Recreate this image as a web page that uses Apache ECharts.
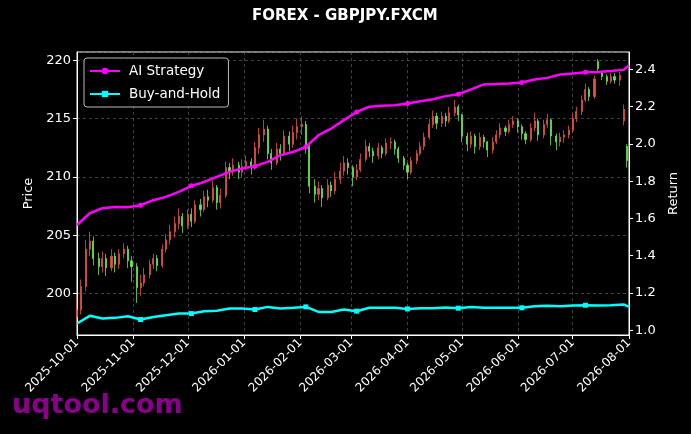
<!DOCTYPE html>
<html>
<head>
<meta charset="utf-8">
<script src="https://cdn.jsdelivr.net/npm/echarts@6/dist/echarts.min.js"></script>
<style>
html,body{margin:0;padding:0;background:#000;}
#chart{width:691px;height:434px;}
</style>
</head>
<body>
<div id="chart"></div>
<script>
// ---- Data ----
const titleText = 'FOREX - GBPJPY.FXCM';
const seriesNames = ['AI Strategy', 'Buy-and-Hold'];

// [date, open, close, low, high]
const ohlc = [
['2025-10-01',198.0,198.6,197.3,199.8],['2025-10-03',198.6,200.6,198.2,201.2],['2025-10-06',200.6,203.8,200.2,204.6],
['2025-10-08',203.8,204.5,203.2,205.3],['2025-10-10',204.5,203.0,202.4,204.9],['2025-10-13',203.0,202.3,201.6,203.5],
['2025-10-15',202.3,203.0,201.8,203.6],['2025-10-17',203.0,202.2,201.5,203.4],['2025-10-20',202.2,203.2,201.9,203.8],
['2025-10-22',203.2,202.5,201.8,203.5],['2025-10-24',202.5,203.4,202.1,203.8],['2025-10-27',203.4,203.8,203.0,204.3],
['2025-10-29',203.8,202.8,202.2,204.1],['2025-10-31',202.8,202.3,201.0,203.2],
['2025-11-03',202.3,200.5,199.2,202.6],['2025-11-05',200.5,200.9,199.8,201.6],['2025-11-07',200.9,201.6,200.6,202.2],
['2025-11-10',201.6,202.5,201.3,202.9],['2025-11-12',202.5,203.0,202.1,203.4],['2025-11-14',203.0,202.4,201.9,203.3],
['2025-11-17',202.4,203.8,202.2,204.2],['2025-11-19',203.8,204.6,203.5,205.1],['2025-11-21',204.6,205.3,204.2,205.9],
['2025-11-24',205.3,206.0,204.8,206.6],['2025-11-26',206.0,206.6,205.5,207.3],['2025-11-28',206.6,205.8,205.2,206.9],
['2025-12-01',205.8,206.8,205.5,207.2],['2025-12-03',206.8,206.2,205.7,207.3],['2025-12-05',206.2,207.6,206.0,208.0],
['2025-12-08',207.6,207.2,206.6,208.1],['2025-12-10',207.2,208.3,207.0,208.8],['2025-12-12',208.3,208.0,207.4,208.9],
['2025-12-15',208.0,209.1,207.8,209.7],['2025-12-17',209.1,207.8,207.2,209.3],['2025-12-19',207.8,208.4,207.3,209.0],
['2025-12-22',208.4,210.8,208.2,211.3],['2025-12-24',210.8,210.5,209.8,211.2],['2025-12-26',210.5,211.0,210.1,211.6],
['2025-12-29',211.0,210.4,209.8,211.3],['2025-12-31',210.4,210.9,210.0,211.5],
['2026-01-02',210.9,211.3,210.6,211.8],['2026-01-05',211.3,210.8,210.2,211.6],['2026-01-07',210.8,212.5,210.6,213.0],
['2026-01-09',212.5,213.6,212.0,214.2],['2026-01-12',213.6,214.1,213.0,214.9],['2026-01-14',214.1,212.0,211.5,214.4],
['2026-01-16',212.0,211.2,210.6,212.4],['2026-01-19',211.2,212.4,211.0,212.9],['2026-01-21',212.4,212.0,211.4,212.8],
['2026-01-23',212.0,213.5,211.8,214.0],['2026-01-26',213.5,212.8,212.2,213.9],['2026-01-28',212.8,213.8,212.5,214.4],
['2026-01-30',213.8,214.3,213.2,215.0],
['2026-02-02',214.3,214.5,213.6,215.2],['2026-02-04',214.5,212.6,212.0,214.8],['2026-02-06',212.6,209.2,208.6,212.8],
['2026-02-09',209.2,208.5,207.8,209.8],['2026-02-11',208.5,209.0,208.0,209.6],['2026-02-13',209.0,208.2,207.4,209.3],
['2026-02-16',208.2,209.3,208.0,209.8],['2026-02-18',209.3,208.8,208.3,209.6],['2026-02-20',208.8,209.8,208.5,210.4],
['2026-02-23',209.8,210.5,209.4,211.2],['2026-02-25',210.5,211.2,210.1,211.8],['2026-02-27',211.2,210.8,210.2,211.6],
['2026-03-02',210.8,210.0,209.2,211.0],['2026-03-04',210.0,210.6,209.7,211.1],['2026-03-06',210.6,211.5,210.4,212.0],
['2026-03-09',211.5,212.6,211.3,213.2],['2026-03-11',212.6,212.2,211.7,212.9],['2026-03-13',212.2,211.8,211.2,212.5],
['2026-03-16',211.8,212.5,211.5,212.9],['2026-03-18',212.5,212.0,211.6,212.7],['2026-03-20',212.0,212.9,211.8,213.3],
['2026-03-23',212.9,213.0,212.4,213.4],['2026-03-25',213.0,212.4,211.9,213.2],['2026-03-27',212.4,211.6,211.2,212.6],
['2026-03-30',211.6,211.0,210.6,211.8],
['2026-04-01',211.0,210.4,209.8,211.2],['2026-04-03',210.4,211.4,210.2,211.7],['2026-04-06',211.4,212.0,211.1,212.3],
['2026-04-08',212.0,212.6,211.8,213.0],['2026-04-10',212.6,213.4,212.3,213.8],['2026-04-13',213.4,214.5,213.2,215.0],
['2026-04-15',214.5,215.2,214.2,215.7],['2026-04-17',215.2,214.6,214.1,215.5],['2026-04-20',214.6,215.2,214.3,215.6],
['2026-04-22',215.2,214.8,214.3,215.5],['2026-04-24',214.8,215.5,214.6,216.0],['2026-04-27',215.5,216.0,215.2,216.6],
['2026-04-29',216.0,215.3,214.8,216.2],
['2026-05-01',215.3,213.5,213.0,215.4],['2026-05-04',213.5,212.8,212.2,213.8],['2026-05-06',212.8,213.5,212.5,213.9],
['2026-05-08',213.5,212.6,212.0,213.7],['2026-05-11',212.6,213.4,212.3,213.8],['2026-05-13',213.4,213.0,212.5,213.6],
['2026-05-15',213.0,212.3,211.7,213.1],['2026-05-18',212.3,213.0,212.0,213.4],['2026-05-20',213.0,213.6,212.8,214.0],
['2026-05-22',213.6,214.2,213.3,214.6],['2026-05-25',214.2,213.9,213.5,214.4],['2026-05-27',213.9,214.5,213.7,214.9],
['2026-05-29',214.5,214.8,214.2,215.2],
['2026-06-01',214.8,214.3,213.8,215.0],['2026-06-03',214.3,213.7,213.2,214.5],['2026-06-05',213.7,213.2,212.8,213.9],
['2026-06-08',213.2,214.2,213.0,214.6],['2026-06-10',214.2,214.8,213.9,215.5],['2026-06-12',214.8,213.6,213.1,215.0],
['2026-06-15',213.6,214.5,213.3,214.9],['2026-06-17',214.5,214.9,214.2,215.4],['2026-06-19',214.9,213.5,212.7,215.0],
['2026-06-22',213.5,213.0,212.3,213.7],['2026-06-24',213.0,213.4,212.6,213.8],['2026-06-26',213.4,213.6,212.9,214.0],
['2026-06-29',213.6,214.0,213.3,214.4],
['2026-07-01',214.0,215.0,213.8,215.4],['2026-07-03',215.0,215.6,214.7,216.0],['2026-07-06',215.6,216.6,215.3,217.0],
['2026-07-08',216.6,217.5,216.4,218.0],['2026-07-10',217.5,216.9,216.5,217.7],['2026-07-13',216.9,218.4,216.7,218.7],
['2026-07-15',219.9,219.3,219.1,220.1],['2026-07-17',218.9,218.6,218.3,219.1],['2026-07-20',218.6,218.2,217.9,218.8],
['2026-07-22',218.2,218.6,218.0,218.9],['2026-07-24',218.6,218.3,218.0,218.9],['2026-07-27',218.3,218.7,217.8,219.0],
['2026-07-29',214.8,215.8,214.4,216.2],['2026-07-31',212.6,211.4,210.8,212.8]
];

const lineDates = ['2025-10-01','2025-10-08','2025-10-15','2025-10-22','2025-10-29','2025-11-05','2025-11-12','2025-11-19','2025-11-26',
'2025-12-03','2025-12-10','2025-12-17','2025-12-24','2025-12-31','2026-01-07','2026-01-14','2026-01-21','2026-01-28',
'2026-02-04','2026-02-11','2026-02-18','2026-02-25','2026-03-04','2026-03-11','2026-03-18','2026-03-25','2026-04-01',
'2026-04-08','2026-04-15','2026-04-22','2026-04-29','2026-05-06','2026-05-13','2026-05-20','2026-05-27','2026-06-03',
'2026-06-10','2026-06-17','2026-06-24','2026-07-01','2026-07-08','2026-07-15','2026-07-22','2026-07-29','2026-08-01'];

const aiStrategy = [1.565,1.628,1.655,1.662,1.660,1.671,1.698,1.716,1.743,
1.775,1.796,1.823,1.850,1.868,1.881,1.904,1.940,1.957,
1.984,2.047,2.083,2.128,2.172,2.200,2.205,2.208,2.217,
2.230,2.240,2.257,2.267,2.293,2.320,2.322,2.325,2.330,
2.346,2.355,2.373,2.378,2.385,2.387,2.392,2.398,2.423];

const buyHold = [1.036,1.077,1.063,1.066,1.075,1.057,1.071,1.080,1.089,
1.089,1.102,1.104,1.116,1.116,1.111,1.125,1.116,1.120,
1.125,1.098,1.098,1.111,1.102,1.120,1.120,1.120,1.114,
1.118,1.118,1.122,1.118,1.125,1.120,1.120,1.120,1.120,
1.129,1.131,1.129,1.133,1.134,1.133,1.134,1.138,1.125];

const markerIdx = [5, 9, 14, 18, 22, 26, 30, 35, 40];

// ---- Chart ----
const FONT = 'DejaVu Sans';
function lineData(vals) {
  return lineDates.map((d, i) => ({
    value: [d, vals[i]],
    symbol: markerIdx.indexOf(i) >= 0 ? undefined : 'none'
  }));
}
const chart = echarts.init(document.getElementById('chart'), null, {renderer: 'canvas'});
const gridLine = {show: true, lineStyle: {color: '#5a5a5a', type: [3, 3], width: 0.7}};
const option = {
  backgroundColor: '#000',
  animation: false,
  textStyle: {fontFamily: FONT},
  title: {
    text: titleText, left: 252, top: 9, padding: 0,
    textStyle: {color: '#fff', fontSize: 15, fontWeight: 'bold', fontFamily: FONT}
  },
  legend: {
    data: seriesNames, orient: 'vertical', left: 84, top: 58,
    itemWidth: 30, itemHeight: 8, itemGap: 9,
    padding: [6, 8, 6, 5],
    borderColor: '#bbbbbb', borderWidth: 1, borderRadius: 3,
    backgroundColor: 'rgba(0,0,0,0.85)',
    textStyle: {color: '#fff', fontSize: 13.5, fontFamily: FONT, padding: [0, 0, 0, 4]}
  },
  grid: {left: 77, right: 62, top: 52, bottom: 99, show: true, borderColor: '#fff', borderWidth: 1, backgroundColor: 'transparent'},
  xAxis: {
    type: 'time', min: '2025-10-01', max: '2026-08-01', splitNumber: 10,
    axisLine: {lineStyle: {color: '#fff', width: 1}},
    axisTick: {show: true, length: 4, lineStyle: {color: '#fff'}},
    axisLabel: {color: '#fff', fontSize: 12, rotate: 45, margin: 6, formatter: '{yyyy}-{MM}-{dd}', hideOverlap: false, fontFamily: FONT},
    splitLine: gridLine
  },
  yAxis: [{
    type: 'value', min: 196.44, max: 220.71, position: 'left',
    name: 'Price', nameLocation: 'middle', nameGap: 42, nameRotate: 90,
    nameTextStyle: {color: '#fff', fontSize: 13, fontFamily: FONT},
    axisLine: {show: true, lineStyle: {color: '#fff'}},
    axisTick: {show: true, length: 4, lineStyle: {color: '#fff'}},
    axisLabel: {color: '#fff', fontSize: 13, margin: 6, showMinLabel: false, showMaxLabel: false, fontFamily: FONT},
    splitLine: gridLine
  }, {
    type: 'value', min: 0.974, max: 2.494, splitNumber: 7, position: 'right',
    name: 'Return', nameLocation: 'middle', nameGap: 38, nameRotate: 90,
    nameTextStyle: {color: '#fff', fontSize: 13, fontFamily: FONT},
    axisLine: {show: true, lineStyle: {color: '#fff'}},
    axisTick: {show: true, length: 4, lineStyle: {color: '#fff'}},
    axisLabel: {color: '#fff', fontSize: 13, margin: 6, showMinLabel: false, showMaxLabel: false,
      formatter: v => v.toFixed(1), fontFamily: FONT},
    splitLine: {show: false}
  }],
  graphic: [{
    type: 'text', left: 12, top: 392, z: -10, zlevel: 0,
    style: {text: 'uqtool.com', fill: '#8b008b', font: 'bold 27px "DejaVu Sans"'}
  }],
  series: [{
    type: 'candlestick', name: 'GBPJPY', yAxisIndex: 0, xAxisIndex: 0,
    data: ohlc, encode: {x: 0, y: [1, 2, 3, 4]},
    barMaxWidth: 1.6,
    itemStyle: {color: '#e8503f', color0: '#66e84f', borderColor: '#e8503f', borderColor0: '#66e84f', borderWidth: 0.8}
  }, {
    type: 'line', name: seriesNames[0], yAxisIndex: 1,
    data: lineData(aiStrategy), symbol: 'circle', symbolSize: 5, showSymbol: true,
    color: '#ff00ff', lineStyle: {width: 2.5, color: '#ff00ff'}, itemStyle: {color: '#ff00ff'}, z: 5
  }, {
    type: 'line', name: seriesNames[1], yAxisIndex: 1,
    data: lineData(buyHold), symbol: 'rect', symbolSize: 5, showSymbol: true,
    color: '#00ffff', lineStyle: {width: 2.5, color: '#00ffff'}, itemStyle: {color: '#00ffff'}, z: 5
  }]
};
chart.setOption(option);
</script>
</body>
</html>
